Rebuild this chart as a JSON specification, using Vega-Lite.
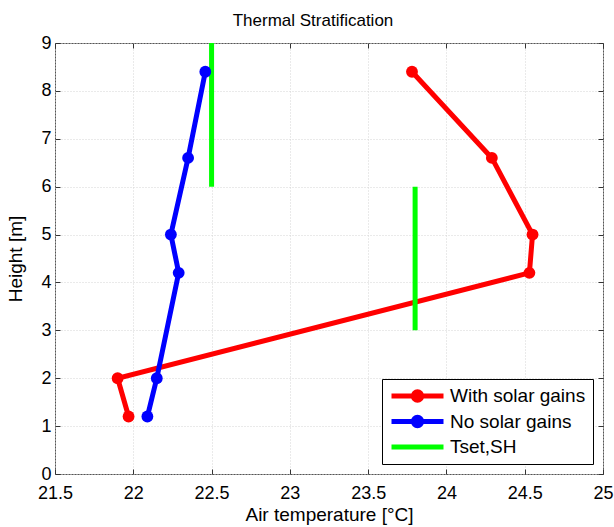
{
  "$schema": "https://vega.github.io/schema/vega-lite/v6.json",
  "width": 548,
  "height": 431,
  "autosize": "none",
  "padding": {"left": 55, "top": 43, "right": 11, "bottom": 53},
  "background": "white",
  "title": {"text": "Thermal Stratification", "fontSize": 17, "fontWeight": "normal", "font": "Liberation Sans", "color": "#000", "offset": 4, "dx": -16},
  "data": {"values": [
    {"series": "With solar gains", "seg": "a", "ord": 1, "T": 21.97, "H": 1.2},
    {"series": "With solar gains", "seg": "a", "ord": 2, "T": 21.9, "H": 2.0},
    {"series": "With solar gains", "seg": "a", "ord": 3, "T": 24.53, "H": 4.2},
    {"series": "With solar gains", "seg": "a", "ord": 4, "T": 24.55, "H": 5.0},
    {"series": "With solar gains", "seg": "a", "ord": 5, "T": 24.29, "H": 6.6},
    {"series": "With solar gains", "seg": "a", "ord": 6, "T": 23.78, "H": 8.4},
    {"series": "No solar gains", "seg": "b", "ord": 1, "T": 22.09, "H": 1.2},
    {"series": "No solar gains", "seg": "b", "ord": 2, "T": 22.15, "H": 2.0},
    {"series": "No solar gains", "seg": "b", "ord": 3, "T": 22.29, "H": 4.2},
    {"series": "No solar gains", "seg": "b", "ord": 4, "T": 22.24, "H": 5.0},
    {"series": "No solar gains", "seg": "b", "ord": 5, "T": 22.35, "H": 6.6},
    {"series": "No solar gains", "seg": "b", "ord": 6, "T": 22.46, "H": 8.4},
    {"series": "Tset,SH", "seg": "c", "ord": 1, "T": 22.5, "H": 6},
    {"series": "Tset,SH", "seg": "c", "ord": 2, "T": 22.5, "H": 9},
    {"series": "Tset,SH", "seg": "d", "ord": 1, "T": 23.8, "H": 3},
    {"series": "Tset,SH", "seg": "d", "ord": 2, "T": 23.8, "H": 6}
  ]},
  "layer": [
    {
      "mark": {"type": "line", "strokeWidth": 5, "clip": true},
      "encoding": {
        "x": {"field": "T", "type": "quantitative", "scale": {"domain": [21.5, 25], "nice": false, "zero": false},
              "axis": {"orient": "bottom", "title": "Air temperature [°C]", "values": [21.5, 22, 22.5, 23, 23.5, 24, 24.5, 25], "format": "~g", "labelPadding": 15, "titlePadding": 3, "labelFlush": false, "labelOverlap": false}},
        "y": {"field": "H", "type": "quantitative", "scale": {"domain": [0, 9], "nice": false},
              "axis": {"orient": "left", "title": "Height [m]", "values": [0, 1, 2, 3, 4, 5, 6, 7, 8, 9], "labelPadding": 9, "titlePadding": 15, "labelFlush": false, "labelOverlap": false}},
        "color": {"field": "series", "type": "nominal",
                  "scale": {"domain": ["With solar gains", "No solar gains", "Tset,SH"], "range": ["#ff0000", "#0000ff", "#00ff00"]},
                  "legend": {
                    "title": null, "orient": "bottom-right", "offset": 10,
                    "strokeColor": "#000", "fillColor": "#fff", "padding": 7,
                    "labelFontSize": 19, "labelFont": "Liberation Sans", "labelColor": "#000",
                    "symbolSize": 2704, "symbolStrokeWidth": 5, "rowPadding": 5.5, "labelOffset": 4, "clipHeight": 20,
                    "encode": {"symbols": {"update": {
                      "shape": {"signal": "datum.value == 'Tset,SH' ? 'M-1,0H1' : 'M-1,0H1M-0.16,0A0.16,0.16 0 1,0 0.16,0A0.16,0.16 0 1,0 -0.16,0Z'"},
                      "fill": {"scale": "color", "field": "value"},
                      "stroke": {"scale": "color", "field": "value"},
                      "strokeWidth": {"value": 5},
                      "opacity": {"value": 1}
                    }}}
                  }},
        "detail": {"field": "seg"},
        "order": {"field": "ord", "type": "quantitative"}
      }
    },
    {
      "transform": [{"filter": "datum.series != 'Tset,SH'"}],
      "mark": {"type": "circle", "size": 140, "opacity": 1},
      "encoding": {
        "x": {"field": "T", "type": "quantitative",
              "axis": {"orient": "top", "title": null, "labels": false, "grid": false, "values": [21.5, 22, 22.5, 23, 23.5, 24, 24.5, 25]}},
        "y": {"field": "H", "type": "quantitative",
              "axis": {"orient": "right", "title": null, "labels": false, "grid": false, "values": [0, 1, 2, 3, 4, 5, 6, 7, 8, 9]}},
        "color": {"field": "series", "type": "nominal"}
      }
    }
  ],
  "config": {
    "font": "Liberation Sans",
    "view": {"stroke": "#555", "strokeWidth": 1},
    "axis": {
      "domain": false,
      "tickSize": -5, "tickColor": "#333", "tickWidth": 1,
      "labelFontSize": 18, "labelColor": "#000", "labelFont": "Liberation Sans",
      "titleFontSize": 19, "titleFontWeight": "normal", "titleColor": "#000", "titleFont": "Liberation Sans",
      "gridColor": "#d4d4d4", "gridDash": [1, 2], "gridWidth": 1
    }
  }
}
